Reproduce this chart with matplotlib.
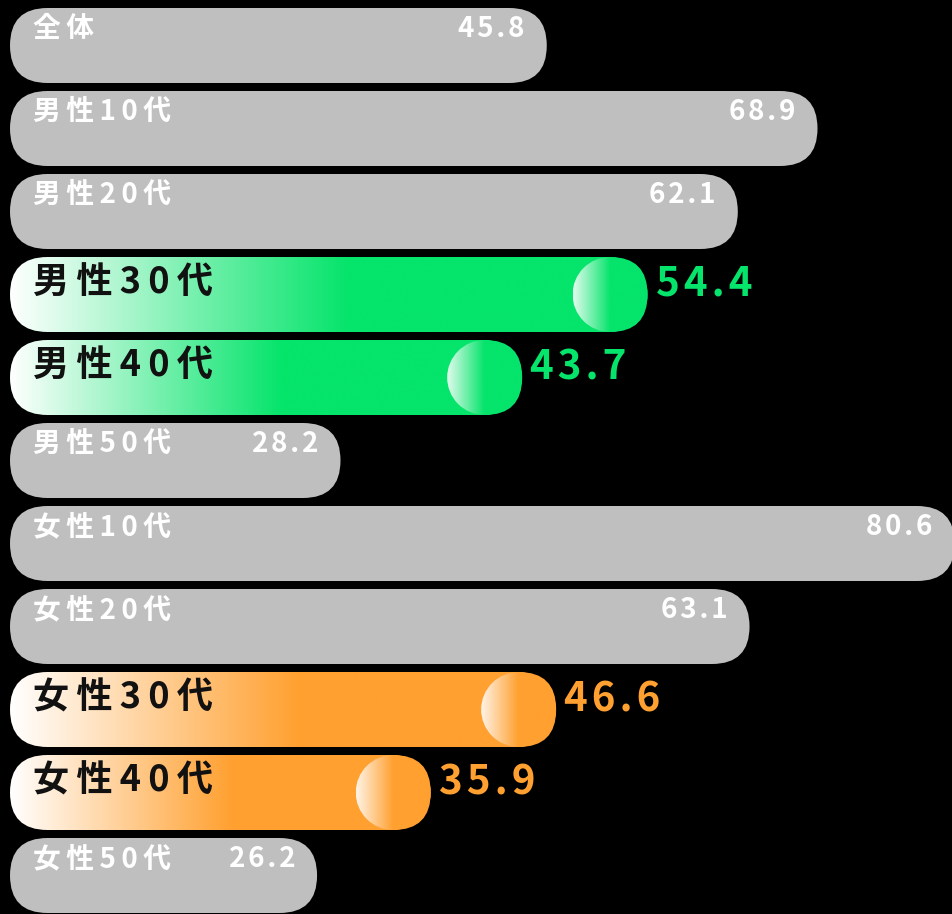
import matplotlib.pyplot as plt
import numpy as np
from matplotlib.patches import FancyBboxPatch, Circle
from matplotlib.colors import to_rgb

plt.rcParams['font.family'] = ['Noto Sans CJK JP', 'DejaVu Sans']

labels = ['全体', '男性10代', '男性20代', '男性30代', '男性40代', '男性50代',
          '女性10代', '女性20代', '女性30代', '女性40代', '女性50代']
values = [45.8, 68.9, 62.1, 54.4, 43.7, 28.2, 80.6, 63.1, 46.6, 35.9, 26.2]
highlight = [None, None, None, '#05e46b', '#05e46b', None,
             None, None, '#ffa030', '#ffa030', None]

GRAY = '#bfbfbf'
W, H = 952, 914
PX = 11.72  # pixels per value unit


def px(v):
    return v / PX


def spaced(s, sp='\u2009'):
    # letter spacing via thin / hair spaces (falls back to DejaVu)
    return sp.join(s)


fig = plt.figure(figsize=(W / 100, H / 100), dpi=100, facecolor='black')
ax = fig.add_axes([0, 0, 1, 1])
ax.set_facecolor('black')
ax.axis('off')

bar_h = px(75)
pitch = px(83)
top0 = px(8)
r = bar_h / 2

for i, (lab, val, col) in enumerate(zip(labels, values, highlight)):
    y = top0 + i * pitch
    num = spaced(f"{val:.1f}", '\u200a')
    style = f"round,pad=0,rounding_size={r}"
    if col is None:
        box = FancyBboxPatch((0, y), val, bar_h, boxstyle=style,
                             facecolor=GRAY, edgecolor='none', zorder=1)
        ax.add_patch(box)
        ax.text(px(23), y + px(29), spaced(lab), color='white', fontsize=20,
                fontweight='bold', ha='left', va='baseline', zorder=4)
        ax.text(val - px(22), y + px(29), num, color='white',
                fontsize=20, fontweight='bold', ha='right', va='baseline', zorder=4)
    else:
        c = np.array(to_rgb(col))
        box = FancyBboxPatch((0, y), val, bar_h, boxstyle=style,
                             facecolor='none', edgecolor='none', zorder=1)
        ax.add_patch(box)
        t = np.clip(np.linspace(0, 1, 512) / 0.53, 0, 1)
        grad = (1 - t)[:, None] * np.ones(3) + t[:, None] * c
        im = ax.imshow(grad[None], extent=[0, val, y + bar_h, y], aspect='auto',
                       interpolation='bilinear', zorder=2)
        im.set_clip_path(box)

        cx, cy = val - r, y + r
        circ = Circle((cx, cy), r, facecolor='none', edgecolor='none', zorder=3)
        ax.add_patch(circ)
        t2 = np.clip(np.linspace(0, 1, 256) * 2, 0, 1)
        light = 0.88 * np.ones(3) + 0.12 * c
        grad2 = (1 - t2)[:, None] * light + t2[:, None] * c
        im2 = ax.imshow(grad2[None], extent=[cx - r, cx + r, y + bar_h, y],
                        aspect='auto', interpolation='bilinear', zorder=3)
        im2.set_clip_path(circ)

        ax.text(px(23), y + px(37), spaced(lab), color='#111111', fontsize=26,
                fontweight='bold', ha='left', va='baseline', zorder=4)
        ax.text(val + px(8), y + px(39), num, color=col,
                fontsize=29, fontweight='bold', ha='left', va='baseline', zorder=4)

ax.set_xlim(px(-10), px(W - 10))
ax.set_ylim(px(H), 0)

fig.savefig('out.png', dpi=100, facecolor='black')
